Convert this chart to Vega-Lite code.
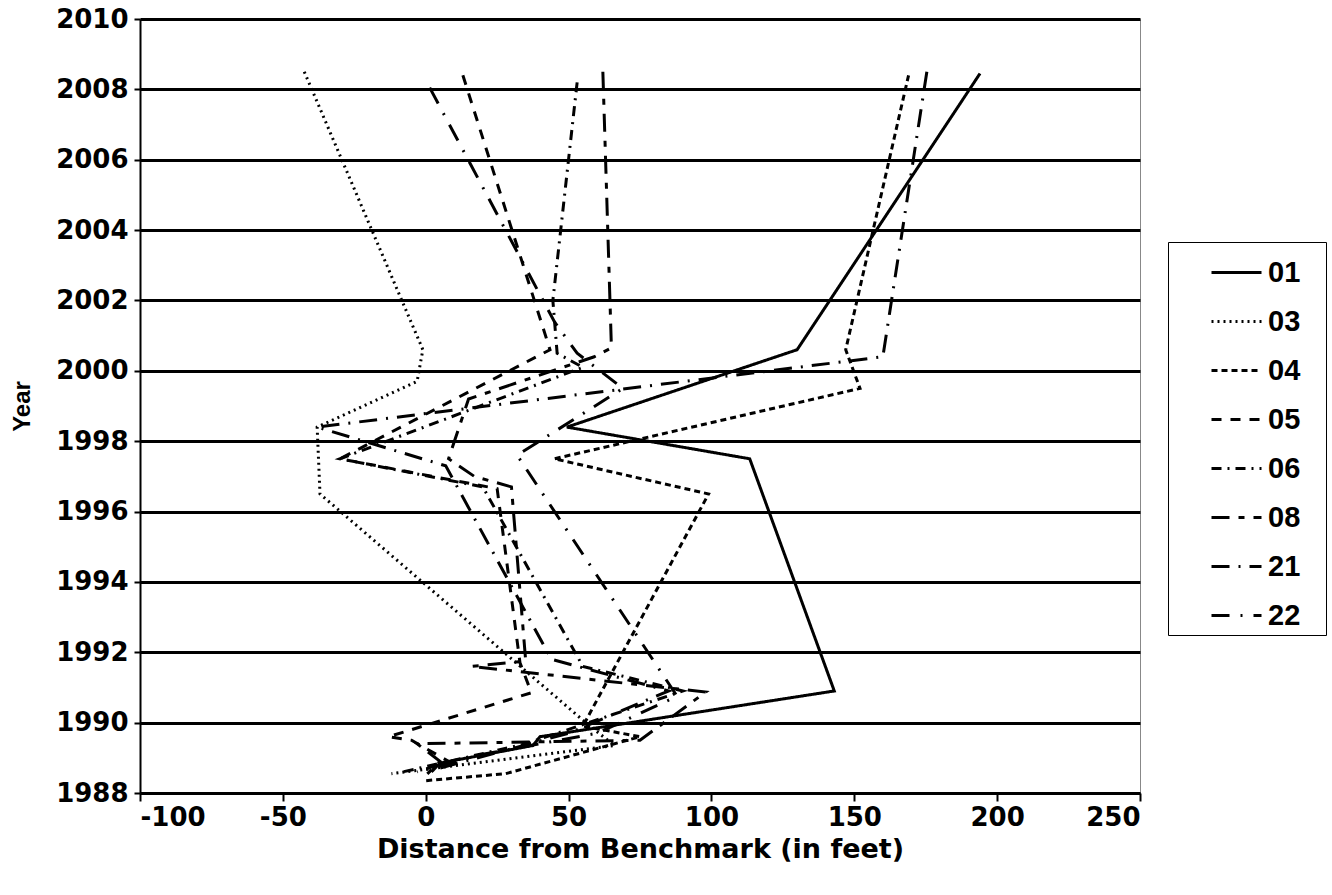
{
  "$schema": "https://vega.github.io/schema/vega-lite/v6.json",
  "width": 1000,
  "height": 774,
  "autosize": "none",
  "padding": {"left": 140, "top": 19, "right": 192, "bottom": 102},
  "background": "white",
  "config": {"font": "Liberation Sans", "view": {"stroke": "#888888", "strokeWidth": 1}},
  "data": {"values": [
    {"t":"01","i":0,"x":194,"y":2008.45},{"t":"01","i":1,"x":130,"y":2000.6},{"t":"01","i":2,"x":49.4,"y":1998.4},{"t":"01","i":3,"x":113.4,"y":1997.5},{"t":"01","i":4,"x":143,"y":1990.9},{"t":"01","i":5,"x":40,"y":1989.6},{"t":"01","i":6,"x":37.5,"y":1989.35},{"t":"01","i":7,"x":5,"y":1988.85},{"t":"01","i":8,"x":2,"y":1988.6},
    {"t":"03","i":0,"x":-42.5,"y":2008.5},{"t":"03","i":1,"x":-1,"y":2000.6},{"t":"03","i":2,"x":-3,"y":1999.7},{"t":"03","i":3,"x":-38,"y":1998.4},{"t":"03","i":4,"x":-37,"y":1996.5},{"t":"03","i":5,"x":56,"y":1990.0},{"t":"03","i":6,"x":66,"y":1989.35},{"t":"03","i":7,"x":-12,"y":1988.55},
    {"t":"04","i":0,"x":169,"y":2008.4},{"t":"04","i":1,"x":147,"y":2000.6},{"t":"04","i":2,"x":152,"y":1999.5},{"t":"04","i":3,"x":45,"y":1997.5},{"t":"04","i":4,"x":99,"y":1996.5},{"t":"04","i":5,"x":55,"y":1989.9},{"t":"04","i":6,"x":75,"y":1989.6},{"t":"04","i":7,"x":28,"y":1988.55},{"t":"04","i":8,"x":0,"y":1988.35},
    {"t":"05","i":0,"x":13,"y":2008.4},{"t":"05","i":1,"x":43.5,"y":2000.6},{"t":"05","i":2,"x":-30,"y":1997.5},{"t":"05","i":3,"x":25,"y":1996.65},{"t":"05","i":4,"x":33,"y":1991.7},{"t":"05","i":5,"x":37,"y":1990.85},{"t":"05","i":6,"x":-13,"y":1989.6},{"t":"05","i":7,"x":-5,"y":1989.5},{"t":"05","i":8,"x":8,"y":1988.9},{"t":"05","i":9,"x":-3,"y":1988.6},
    {"t":"06","i":0,"x":53,"y":2008.2},{"t":"06","i":1,"x":44.5,"y":2002},{"t":"06","i":2,"x":46,"y":2000.5},{"t":"06","i":3,"x":55,"y":2000.1},{"t":"06","i":4,"x":-30,"y":1997.5},{"t":"06","i":5,"x":20,"y":1996.7},{"t":"06","i":6,"x":55,"y":1991.6},{"t":"06","i":7,"x":90,"y":1990.9},{"t":"06","i":8,"x":35,"y":1989.4},{"t":"06","i":9,"x":-8,"y":1988.6},
    {"t":"08","i":0,"x":62,"y":2008.5},{"t":"08","i":1,"x":65,"y":2000.65},{"t":"08","i":2,"x":59,"y":2000.4},{"t":"08","i":3,"x":15,"y":1999.2},{"t":"08","i":4,"x":8,"y":1997.5},{"t":"08","i":5,"x":17,"y":1997.0},{"t":"08","i":6,"x":30,"y":1996.7},{"t":"08","i":7,"x":35,"y":1991.75},{"t":"08","i":8,"x":16,"y":1991.6},{"t":"08","i":9,"x":98,"y":1990.87},{"t":"08","i":10,"x":75,"y":1989.5},{"t":"08","i":11,"x":-3,"y":1989.4},{"t":"08","i":12,"x":5,"y":1988.9},{"t":"08","i":13,"x":0,"y":1988.5},
    {"t":"21","i":0,"x":175.4,"y":2008.5},{"t":"21","i":1,"x":160,"y":2000.4},{"t":"21","i":2,"x":-38,"y":1998.4},{"t":"21","i":3,"x":7,"y":1997.3},{"t":"21","i":4,"x":44,"y":1991.8},{"t":"21","i":5,"x":85,"y":1990.9},{"t":"21","i":6,"x":50,"y":1989.7},{"t":"21","i":7,"x":0,"y":1988.6},
    {"t":"22","i":0,"x":1.4,"y":2008.05},{"t":"22","i":1,"x":45,"y":2001.4},{"t":"22","i":2,"x":53,"y":2000.5},{"t":"22","i":3,"x":69,"y":1999.5},{"t":"22","i":4,"x":32,"y":1997.6},{"t":"22","i":5,"x":88,"y":1990.75},{"t":"22","i":6,"x":60,"y":1989.7},{"t":"22","i":7,"x":20,"y":1989.1},{"t":"22","i":8,"x":-3,"y":1988.6}
  ]},
  "mark": {"type": "line", "color": "black", "strokeWidth": 3, "strokeCap": "butt"},
  "encoding": {
    "x": {"field": "x", "type": "quantitative",
      "scale": {"domain": [-100, 250], "nice": false, "zero": false},
      "axis": {"values": [-100, -50, 0, 50, 100, 150, 200, 250], "grid": false, "labelExpr": "'' + datum.value",
        "labelFont": "DejaVu Sans", "labelFontSize": 26, "labelFontWeight": "bold", "labelColor": "black", "labelPadding": 3,
        "domainColor": "black", "domainWidth": 2, "tickColor": "black", "tickWidth": 2, "tickSize": 8,
        "title": "Distance from Benchmark (in feet)", "titleFont": "DejaVu Sans", "titleFontSize": 27, "titleFontWeight": "bold", "titleColor": "black", "titlePadding": 6}},
    "y": {"field": "y", "type": "quantitative",
      "scale": {"domain": [1988, 2010], "nice": false, "zero": false},
      "axis": {"values": [1988, 1990, 1992, 1994, 1996, 1998, 2000, 2002, 2004, 2006, 2008, 2010], "labelExpr": "'' + datum.value",
        "grid": true, "gridColor": "black", "gridWidth": 3, "gridOpacity": 1,
        "labelFont": "DejaVu Sans", "labelFontSize": 26, "labelFontWeight": "bold", "labelColor": "black", "labelPadding": 6,
        "domainColor": "black", "domainWidth": 2, "tickColor": "black", "tickWidth": 2, "tickSize": 6,
        "title": "Year", "titleFont": "Liberation Sans", "titleFontSize": 24, "titleFontWeight": "bold", "titleColor": "black", "titlePadding": 21}},
    "strokeDash": {"field": "t", "type": "nominal",
      "scale": {"domain": ["01", "03", "04", "05", "06", "08", "21", "22"],
        "range": [[1, 0], [2, 4], [6, 4], [10, 9], [10, 6, 2, 6], [18, 9, 6, 9], [18, 9, 2, 9], [18, 11, 2, 11]]},
      "legend": {"orient": "none", "legendX": 1028, "legendY": 223, "title": null,
        "strokeColor": "black", "fillColor": "white", "padding": 4,
        "symbolType": "stroke", "symbolSize": 2500, "symbolStrokeWidth": 3, "symbolStrokeColor": "black", "symbolOffset": 38,
        "labelFont": "Liberation Sans", "labelFontSize": 29, "labelFontWeight": "bold", "labelColor": "black", "labelOffset": 5, "rowPadding": 7,
        "labelExpr": "datum.label + '\u2800'"}},
    "order": {"field": "i", "type": "quantitative"}
  }
}
